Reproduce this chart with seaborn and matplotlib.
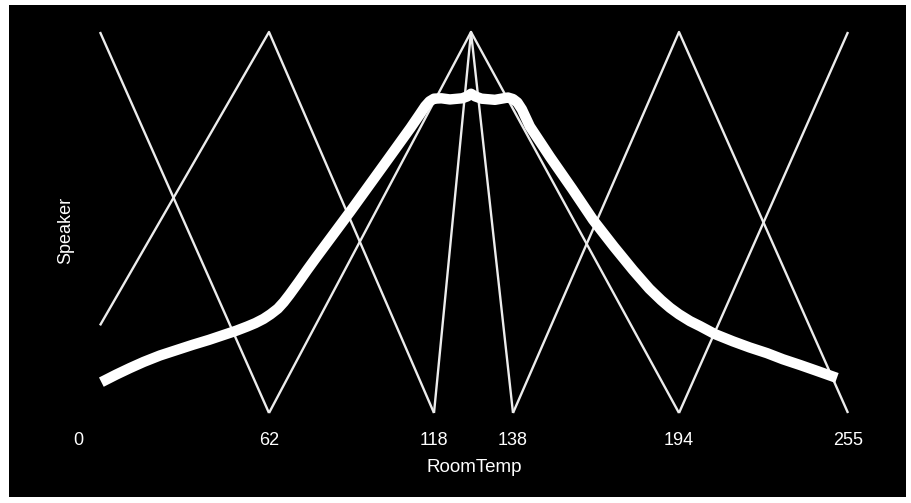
import numpy as np
import pandas as pd
import matplotlib
matplotlib.use("Agg")
import matplotlib.pyplot as plt
from matplotlib.patches import Rectangle
from matplotlib.transforms import ScaledTranslation
import seaborn as sns

# ---- data (RoomTemp units on x, membership / Speaker on y) ----
tick_values = [0, 62, 118, 138, 194, 255]
tick_labels = ["0", "62", "118", "138", "194", "255"]

set_a_x = [0, 62];            set_a_y = [1.0, 0.0]
set_b_x = [0, 62, 118];       set_b_y = [0.23, 1.0, 0.0]
set_c_x = [62, 128, 194];     set_c_y = [0.0, 1.0, 0.0]
set_d_x = [118, 128, 138];    set_d_y = [0.0, 1.0, 0.0]
set_e_x = [138, 194, 255];    set_e_y = [0.0, 1.0, 0.0]
set_f_x = [194, 255];         set_f_y = [0.0, 1.0]

speaker_x = [0.5, 6, 11, 16, 22, 28, 34, 40, 45, 50, 54, 57, 60, 62.5, 65,
             67, 69, 72, 75, 78, 89.5, 100.7, 110, 113, 115, 116.5, 118,
             120, 122.3, 125.6, 127, 128, 129, 130.5, 133.7, 136.8, 138,
             139.5, 141, 143.7, 150.5, 158, 165, 172, 178.5, 184, 188, 191,
             194, 198, 201.6, 207, 213.5, 219.5, 225.8, 231.5, 237.7, 244, 251]
speaker_y = [0.081, 0.101, 0.118, 0.134, 0.151, 0.165, 0.179, 0.192, 0.204,
             0.216, 0.227, 0.236, 0.247, 0.259, 0.274, 0.291, 0.311, 0.343,
             0.376, 0.408, 0.528, 0.648, 0.748, 0.782, 0.805, 0.818, 0.825,
             0.826, 0.823, 0.826, 0.831, 0.838, 0.831, 0.825, 0.822, 0.828,
             0.824, 0.815, 0.797, 0.752, 0.672, 0.588, 0.507, 0.437, 0.375,
             0.326, 0.296, 0.276, 0.259, 0.241, 0.228, 0.207, 0.188, 0.172,
             0.157, 0.141, 0.126, 0.110, 0.092]

# ---- axis scale anchors (visual spacing of the original axis) ----
anch_v = np.array([0, 62, 118, 128, 138, 194, 255], dtype=float)
anch_p = np.array([100, 269, 434, 471, 513, 679, 848], dtype=float)


def _fwd(v):
    v = np.asarray(v, dtype=float)
    out = np.interp(v, anch_v, anch_p)
    s0 = (anch_p[1] - anch_p[0]) / (anch_v[1] - anch_v[0])
    s1 = (anch_p[-1] - anch_p[-2]) / (anch_v[-1] - anch_v[-2])
    out = np.where(v < anch_v[0], anch_p[0] + (v - anch_v[0]) * s0, out)
    out = np.where(v > anch_v[-1], anch_p[-1] + (v - anch_v[-1]) * s1, out)
    return out


def _inv(p):
    p = np.asarray(p, dtype=float)
    out = np.interp(p, anch_p, anch_v)
    s0 = (anch_v[1] - anch_v[0]) / (anch_p[1] - anch_p[0])
    s1 = (anch_v[-1] - anch_v[-2]) / (anch_p[-1] - anch_p[-2])
    out = np.where(p < anch_p[0], anch_v[0] + (p - anch_p[0]) * s0, out)
    out = np.where(p > anch_p[-1], anch_v[-1] + (p - anch_p[-1]) * s1, out)
    return out


sns.set_theme(style="dark")
plt.rcParams["font.family"] = ["Liberation Sans", "DejaVu Sans"]

W, H = 912, 503
fig = plt.figure(figsize=(W / 100, H / 100), dpi=100)
fig.patch.set_facecolor("white")
fig.add_artist(Rectangle((9 / W, 6 / H), (906 - 9) / W, (498 - 6) / H,
                         transform=fig.transFigure, facecolor="black",
                         edgecolor="none", zorder=-10))

ax = fig.add_axes([100 / W, (H - 413) / H, 748 / W, 381 / H])
ax.set_facecolor("black")
ax.patch.set_alpha(0)

ax.set_xscale("function", functions=(_fwd, _inv))

thin = dict(color="#ececec", linewidth=1.7, sort=False, estimator=None,
            ax=ax, legend=False)
for xs, ys in [(set_a_x, set_a_y), (set_b_x, set_b_y), (set_c_x, set_c_y),
               (set_d_x, set_d_y), (set_e_x, set_e_y), (set_f_x, set_f_y)]:
    df = pd.DataFrame({"RoomTemp": xs, "Speaker": ys})
    sns.lineplot(data=df, x="RoomTemp", y="Speaker", **thin)

df_sp = pd.DataFrame({"RoomTemp": speaker_x, "Speaker": speaker_y})
sns.lineplot(data=df_sp, x="RoomTemp", y="Speaker", ax=ax, color="white",
             linewidth=7.5, sort=False, estimator=None, legend=False)

for ln in ax.get_lines():
    ln.set_clip_on(False)
    ln.set_solid_joinstyle("round")
    ln.set_solid_capstyle("butt")

ax.set_xlim(0, 255)
ax.set_ylim(0, 1)
ax.set_xticks(tick_values)
ax.set_xticklabels(tick_labels)
ax.set_yticks([])
ax.tick_params(axis="x", colors="white", length=0, pad=14, labelsize=13)
ax.grid(False)
for sp in ax.spines.values():
    sp.set_visible(False)

ax.set_xlabel("RoomTemp", color="white", fontsize=13.5, labelpad=7)
ax.set_ylabel("Speaker", color="white", fontsize=13)
ax.yaxis.set_label_coords((74 - 100) / 748, (413 - 230) / 381)

fig.canvas.draw()
lbl0 = ax.xaxis.get_major_ticks()[0].label1
lbl0.set_transform(lbl0.get_transform() +
                   ScaledTranslation(-22 / 100, 0, fig.dpi_scale_trans))

fig.savefig("out.png", dpi=100, facecolor="white")
